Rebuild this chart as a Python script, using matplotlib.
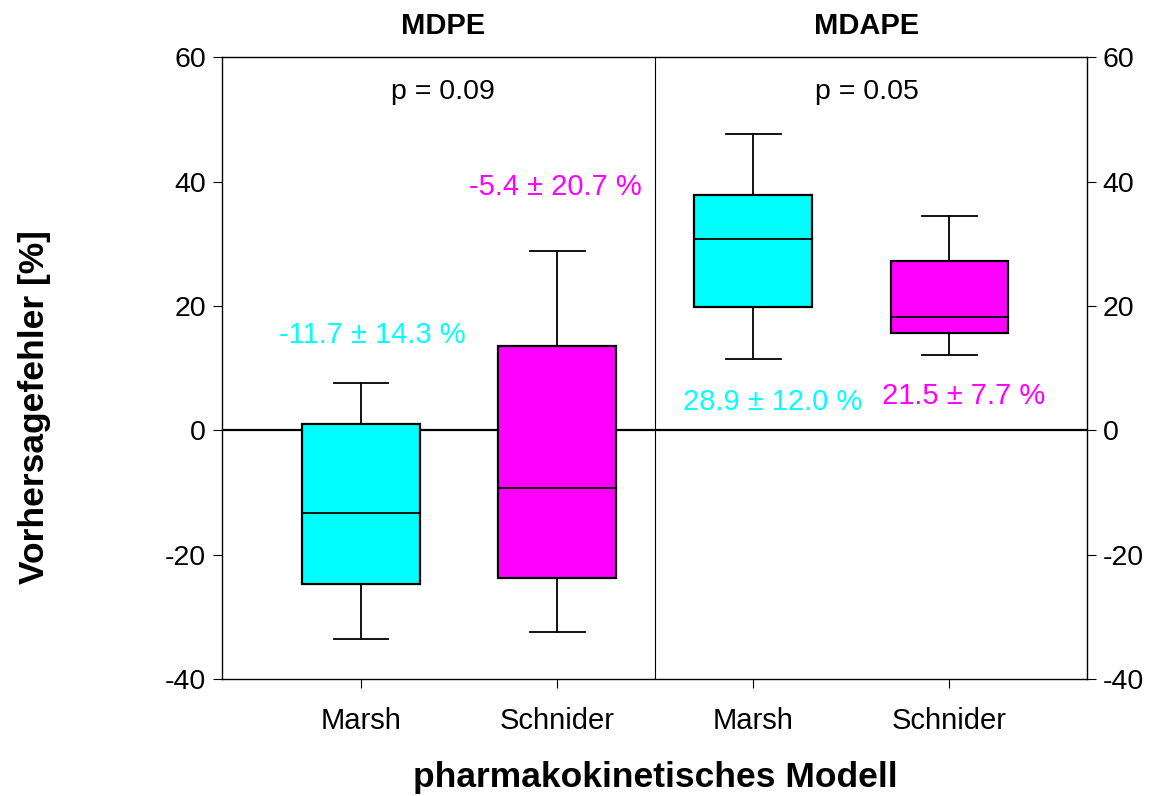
import matplotlib
matplotlib.use("Agg")
import matplotlib.pyplot as plt

plt.rcParams['font.family'] = ['Liberation Sans', 'DejaVu Sans']
plt.rcParams['axes.unicode_minus'] = False

# data
groups = ['MDPE', 'MDAPE']
group_x = [1.42, 3.58]
models = ['Marsh', 'Schnider', 'Marsh', 'Schnider']
whislo = [-33.6, -32.5, 11.4, 12.1]
q1 = [-24.8, -23.8, 19.8, 15.6]
med = [-13.3, -9.3, 30.7, 18.2]
q3 = [1.0, 13.5, 37.9, 27.2]
whishi = [7.6, 28.8, 47.7, 34.4]
colors = ['#00ffff', '#ff00ff', '#00ffff', '#ff00ff']
p_values = ['p = 0.09', 'p = 0.05']
summary = ['-11.7 \u00b1 14.3 %', '-5.4 \u00b1 20.7 %', '28.9 \u00b1 12.0 %', '21.5 \u00b1 7.7 %']
summary_y = [15.3, 39.2, 4.5, 5.5]
summary_dx = [0.06, -0.01, 0.10, 0.07]

fig = plt.figure(figsize=(11.61, 7.96), dpi=100)
ax = fig.add_axes([0.191, 0.147, 0.745, 0.781])

pos = list(range(1, len(models) + 1))
stats = []
for i in range(len(models)):
    stats.append(dict(whislo=whislo[i], q1=q1[i], med=med[i], q3=q3[i],
                      whishi=whishi[i], fliers=[]))
bp = ax.bxp(stats, positions=pos, widths=0.6, patch_artist=True,
            showfliers=False,
            boxprops=dict(linewidth=1.6, edgecolor='black'),
            medianprops=dict(color='black', linewidth=1.3),
            whiskerprops=dict(color='black', linewidth=1.3),
            capprops=dict(color='black', linewidth=1.3),
            capwidths=0.28, zorder=3)
for patch, c in zip(bp['boxes'], colors):
    patch.set_facecolor(c)

ax.axhline(0, color='black', linewidth=1.6, zorder=2)
ax.axvline(2.5, color='black', linewidth=0.8, zorder=2)

ax.set_xlim(0.29, 4.70)
ax.set_ylim(-40, 60)
ax.set_yticks(range(-40, 61, 20))
ax.set_xticks(pos)
ax.set_xticklabels(models, fontsize=21)
ax.tick_params(axis='y', labelsize=20.5, direction='out', length=6.5,
               right=True, labelright=True, pad=5)
ax.tick_params(axis='x', direction='out', length=6.5, pad=14)
for s in ax.spines.values():
    s.set_linewidth(1.0)

for j, g in enumerate(groups):
    ax.text(group_x[j], 1.05, g, transform=ax.get_xaxis_transform(), ha='center',
            va='center', fontsize=21, fontweight='bold')
    ax.text(group_x[j], 54.5, p_values[j], ha='center', va='center', fontsize=20.5)

for i in range(len(models)):
    ax.text(pos[i] + summary_dx[i], summary_y[i], summary[i], ha='center',
            va='center', fontsize=21, color=colors[i])

fig.text(35 / 1161, 1 - 407 / 796, 'Vorhersagefehler [%]', rotation=90,
         ha='center', va='center', fontsize=25.5, fontweight='bold')
fig.text(655 / 1161, 1 - 778 / 796, 'pharmakokinetisches Modell',
         ha='center', va='center', fontsize=25.5, fontweight='bold')

fig.savefig('out.png', dpi=100)
